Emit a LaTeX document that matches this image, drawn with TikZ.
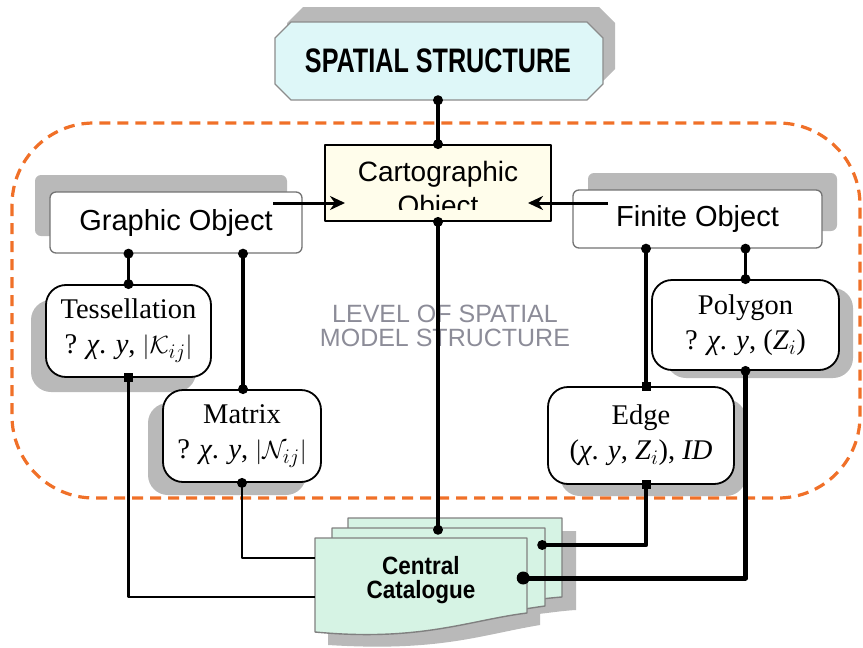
\documentclass[tikz,border=0pt]{standalone}
\usepackage{fontspec}
\usepackage{graphicx}
\setmainfont{Liberation Serif}
\setsansfont{Liberation Sans}
\usetikzlibrary{arrows.meta}
\definecolor{dashorange}{RGB}{240,112,40}
\definecolor{cyanfill}{RGB}{222,247,248}
\definecolor{yelfill}{RGB}{255,253,235}
\definecolor{mintfill}{RGB}{214,243,228}
\definecolor{shadowgray}{RGB}{185,185,185}
\definecolor{lvlgray}{RGB}{140,140,152}
\begin{document}
\begin{tikzpicture}[x=1pt,y=-1pt,line join=round,
  dot/.style={circle,fill=black,inner sep=0pt,minimum size=10pt},
  sqdot/.style={rectangle,fill=black,inner sep=0pt,minimum size=9pt},
  conn/.style={line width=3.6pt},
  thinconn/.style={line width=2.6pt},
  shadowc/.style={fill=shadowgray},
  sansbox/.style={draw=black!55,line width=1.3pt,fill=white,rounded corners=6pt,
    font=\sffamily\fontsize{29}{32}\selectfont,inner sep=0pt},
  serifbox/.style={draw=black,line width=1.8pt,fill=white,rounded corners=20pt,
    align=center,inner sep=0pt,font=\fontsize{28.5}{35}\selectfont},
  sheet/.style={draw=black!50,line width=1.4pt,fill=mintfill},
]
\useasboundingbox (0,0) rectangle (863,648);

% dashed level boundary
\draw[dashorange,line width=3.2pt,dash pattern=on 11pt off 7pt,rounded corners=82pt]
  (12,123) rectangle (860,498);

% SPATIAL STRUCTURE
\fill[shadowc] (303,7) -- (599,7) -- (615,23) -- (615,69) -- (599,85) -- (303,85) -- (287,69) -- (287,23) -- cycle;
\draw[draw=black!45,line width=1.3pt,fill=cyanfill]
  (291,22) -- (587,22) -- (603,38) -- (603,84) -- (587,100) -- (291,100) -- (275,84) -- (275,38) -- cycle;
\node[minimum width=328pt,minimum height=78pt,inner sep=0pt,
  font=\sffamily\bfseries\fontsize{34}{36}\selectfont] (ss) at (438,61)
  {\scalebox{0.74}[1]{SPATIAL STRUCTURE}};

% Cartographic Object
\node[draw=black,line width=1.8pt,fill=yelfill,minimum width=226pt,minimum height=76pt,inner sep=0pt] (co) at (438,183) {};
\begin{scope}
\clip (324,146) rectangle (548,209);
\node[font=\sffamily\fontsize{28}{34}\selectfont,align=center,anchor=base] (cotext) at (438,215) {Cartographic\\Object};
\end{scope}

% Graphic Object
\fill[shadowc,rounded corners=6pt] (35,175) rectangle (287,236);
\node[sansbox,minimum width=252pt,minimum height=61pt] (go) at (176,222.5) {Graphic Object};

% Finite Object
\fill[shadowc,rounded corners=6pt] (588,173) rectangle (837,231);
\node[sansbox,minimum width=249pt,minimum height=58pt] (fo) at (697.5,219) {Finite Object};

% arrows into Cartographic Object
\coordinate (a1) at (273,203);
\coordinate (a1t) at (345,203);
\coordinate (a2) at (608,203);
\coordinate (a2t) at (528,203);
\draw[line width=3pt,-{Stealth[length=15pt,width=14pt]}] (a1) -- (a1t);
\draw[line width=3pt,-{Stealth[length=15pt,width=14pt]}] (a2) -- (a2t);

% Tessellation
\fill[shadowc,rounded corners=20pt] (31,300) rectangle (196,392);
\node[serifbox,minimum width=165pt,minimum height=92pt] (te) at (128.5,331)
  {Tessellation\\? \textit{χ}. \textit{y}, $|\mathcal{K}_{ij}|$};

% Matrix
\fill[shadowc,rounded corners=20pt] (148,403) rectangle (306,495);
\node[serifbox,minimum width=158pt,minimum height=92pt] (mx) at (242,436)
  {Matrix\\? \textit{χ}. \textit{y}, $|\mathcal{N}_{ij}|$};

% Polygon
\fill[shadowc,rounded corners=20pt] (666,288) rectangle (853,378);
\node[serifbox,minimum width=187pt,minimum height=90pt] (pg) at (745.5,325)
  {Polygon\\? \textit{χ}. \textit{y}, (\textit{Z}$_{i}$)};

% Edge
\fill[shadowc,rounded corners=20pt] (560,399) rectangle (746,496);
\node[serifbox,minimum width=186pt,minimum height=97pt] (ed) at (641,435.5)
  {Edge\\(\textit{χ}. \textit{y}, \textit{Z}$_{i}$), \textit{ID}};

% LEVEL text
\node[font=\sffamily\fontsize{25}{24}\selectfont,text=lvlgray,align=center] (lvl) at (445,326)
  {LEVEL OF SPATIAL\\MODEL STRUCTURE};

% Central Catalogue sheets: shadows
\fill[shadowc] (362,531) -- (576,531) -- (576,610) .. controls (540,612) and (520,622) .. (362,618) -- cycle;
\fill[shadowc] (328,550) -- (540,550) -- (540,625) .. controls (480,635) and (440,652) .. (328,645) -- cycle;
% sheets
\draw[sheet] (348,518) -- (562,518) -- (562,597) .. controls (520,600) and (480,612) .. (348,606) -- cycle;
\draw[sheet] (332,528) -- (545,528) -- (545,606) .. controls (500,612) and (460,624) .. (332,618) -- cycle;
\draw[sheet] (315,538) -- (527,538) -- (527,613) .. controls (470,620) and (420,642) .. (315,632) -- cycle;
\node[minimum width=212pt,minimum height=90pt,inner sep=0pt,align=center,
  font=\sffamily\bfseries\fontsize{25}{27}\selectfont] (cc) at (421,580)
  {\scalebox{0.9}[1]{Central}\\[-3pt]\scalebox{0.9}[1]{Catalogue}};

% connectors
\draw[conn] (ss.south) -- (co.north);
\node[dot] at (ss.south) {};
\node[dot] at (co.north) {};

\draw[conn] (co.south) -- ([xshift=17pt,yshift=5pt]cc.north);
\node[dot] at (co.south) {};
\node[dot] at ([xshift=17pt,yshift=5pt]cc.north) {};

\draw[conn] (te.north) -- (te.north |- go.south);
\node[dot] at (te.north) {};
\node[dot] at (te.north |- go.south) {};

\draw[conn] ([xshift=1pt]mx.north) -- ([xshift=1pt]mx.north |- go.south);
\node[dot] at ([xshift=1pt]mx.north) {};
\node[dot] at ([xshift=1pt]mx.north |- go.south) {};

\draw[conn] ([xshift=5pt]ed.north) -- ([xshift=5pt]ed.north |- fo.south);
\node[sqdot] at ([xshift=5pt]ed.north) {};
\node[dot] at ([xshift=5pt]ed.north |- fo.south) {};

\draw[conn] (pg.north) -- (pg.north |- fo.south);
\node[dot] at (pg.north) {};
\node[dot] at (pg.north |- fo.south) {};

\draw[thinconn] (te.south) |- ([yshift=-17pt]cc.west);
\node[sqdot] at (te.south) {};

\draw[thinconn] (mx.south) |- ([yshift=22pt]cc.west);
\node[dot] at (mx.south) {};

\draw[line width=4.2pt] ([xshift=5pt]ed.south) |- ([xshift=15pt,yshift=35pt]cc.east);
\node[sqdot] at ([xshift=5pt]ed.south) {};
\node[dot] at ([xshift=15pt,yshift=35pt]cc.east) {};

\draw[line width=5pt] (pg.south) |- ([xshift=-4pt,yshift=2pt]cc.east);
\node[dot] at (pg.south) {};
\node[dot,minimum size=13pt] at ([xshift=-4pt,yshift=2pt]cc.east) {};
\end{tikzpicture}
\end{document}
